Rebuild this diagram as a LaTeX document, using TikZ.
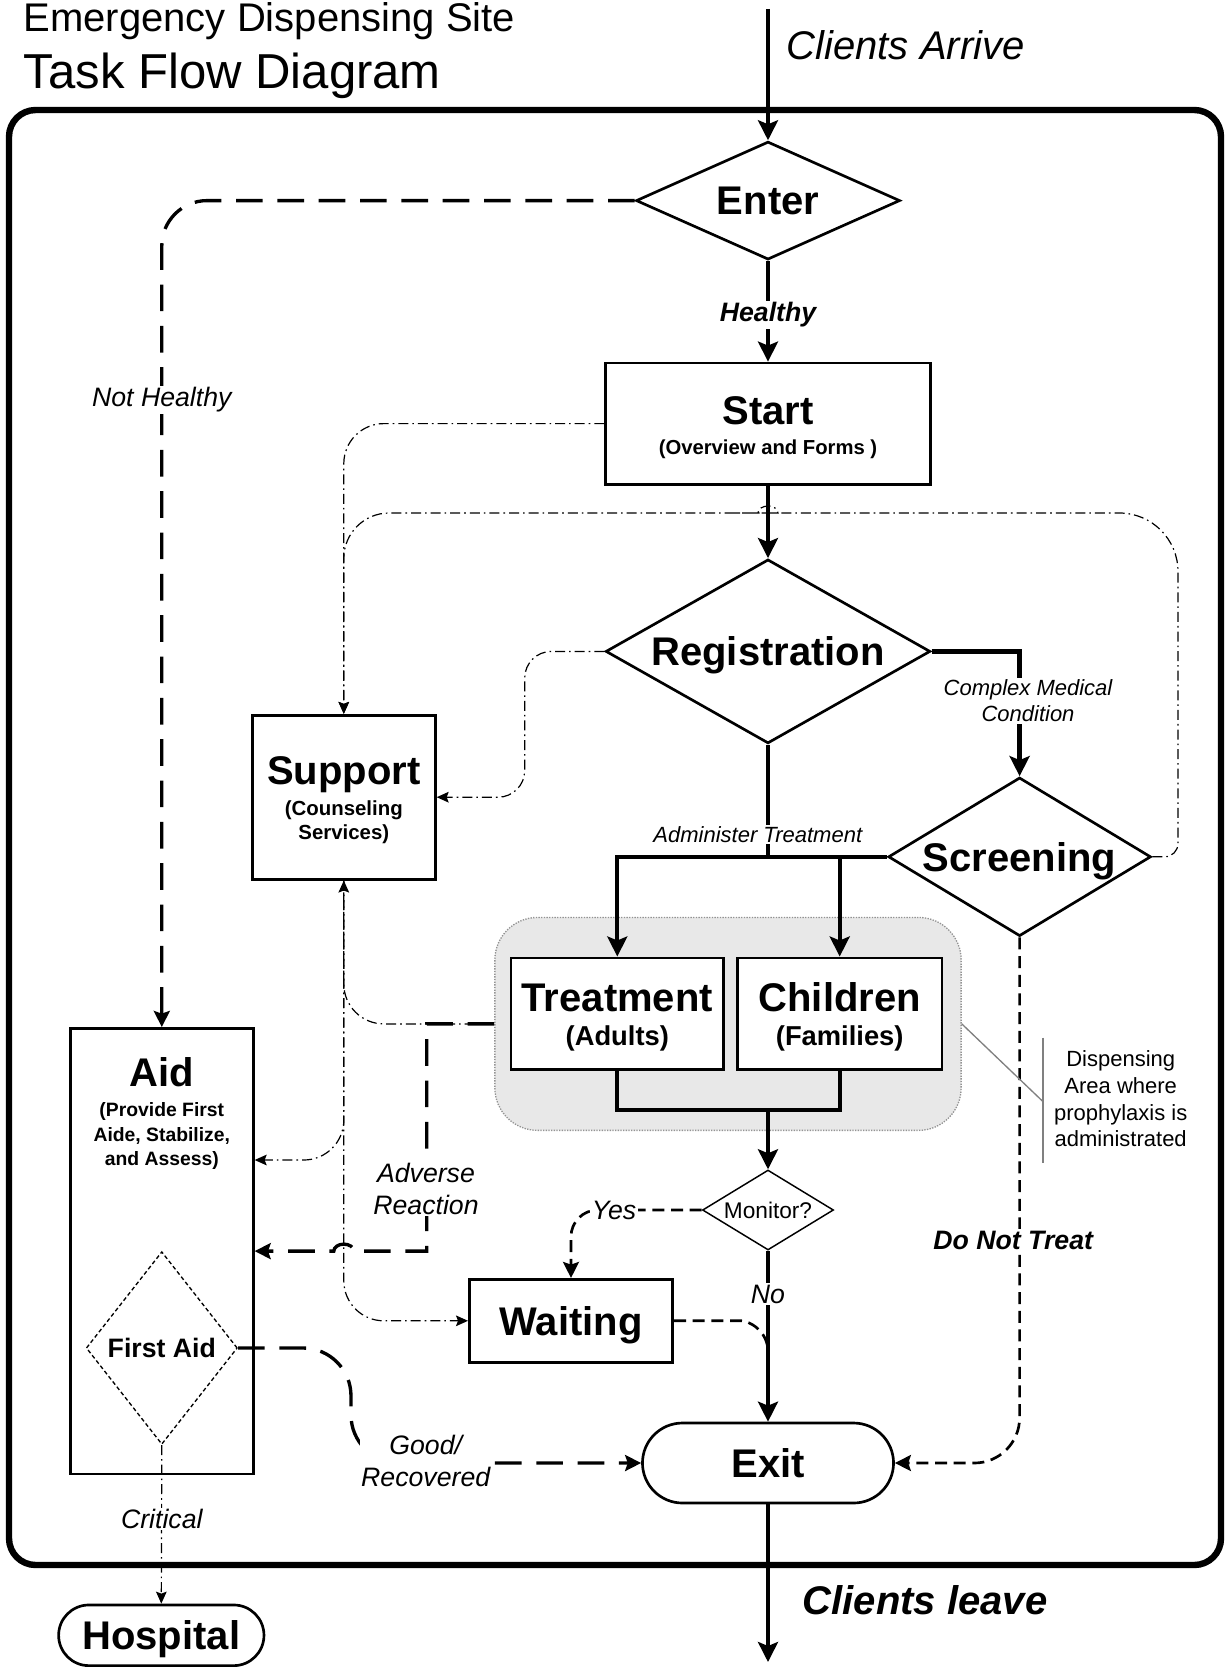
\documentclass[tikz,border=0pt]{standalone}
\usepackage{fontspec}
\setmainfont{Liberation Sans}
\usetikzlibrary{shapes.geometric,arrows.meta}
\newcommand{\setsize}[2]{\fontsize{#1}{#2}\selectfont}

\begin{document}
\begin{tikzpicture}[x=0.75pt, y=-0.75pt,
	box/.style={draw, line width=2pt, inner sep=0pt, align=center, text height=21.5pt, text depth=0pt, font=\bfseries\setsize{30}{30}},
	decision/.style={draw, diamond, line width=2pt, inner sep=0pt, text height=21.5pt, text depth=0pt, font=\bfseries\setsize{30}{30}},
	terminal/.style={draw, line width=2pt, inner sep=0pt, rounded corners=#1, text height=21.5pt, text depth=0pt, font=\bfseries\setsize{30}{30}},
	flowline/.style={line width=2.8pt},
	flowlink/.style={flowline, -{Stealth[length=15pt, width=15pt, inset=3pt]}},
	heavylink/.style={line width=3.8pt, -{Stealth[length=15pt, width=15pt, inset=3pt]}},
	longdashlink/.style={line width=2.5pt, dash pattern=on 20pt off 11pt, rounded corners=34pt, -{Stealth[length=12pt, width=12pt, inset=2pt]}},
	shortdashlink/.style={line width=2pt, dash pattern=on 9pt off 5pt, rounded corners=20pt, -{Stealth[length=12pt, width=12pt, inset=2pt]}},
	dashdotlink/.style={line width=0.9pt, dash pattern=on 7.5pt off 3pt on 1.2pt off 3pt, rounded corners=30pt, -{Stealth[length=9pt, width=8pt, inset=1.5pt]}},
	noteline/.style={draw=gray, line width=1pt},
	lbl/.style={fill=white, inner sep=1pt, font=\itshape\setsize{20}{24}},
	boldlbl/.style={fill=white, inner sep=1pt, font=\bfseries\itshape\setsize{20}{24}},
	smalllbl/.style={fill=white, inner sep=1pt, font=\itshape\setsize{16.5}{20}}]
	\useasboundingbox (0,0) rectangle (1225,1669);
	\draw[line width=4.8pt, rounded corners=20pt] (9,110) rectangle (1221,1565);

	\node (title) at (19,32) [anchor=base west, font=\setsize{30}{30}] {Emergency Dispensing Site};
	\node (subtitle) at (19,89) [anchor=base west, font=\setsize{36.8}{40}] {Task Flow Diagram};

	\node (enter) at (768,200.6) [decision, aspect=2.24, minimum width=198pt, minimum height=88.5pt] {Enter};
	\node (start) at (768,423.6) [box, text height=46pt, minimum width=243.5pt, minimum height=91pt] {Start\\[-7.3pt]{\setsize{15.2}{18}(Overview and Forms )}};
	\node (registration) at (768,651.4) [decision, aspect=1.76, minimum width=243.5pt, minimum height=138pt] {Registration};
	\node (screening) at (1019.6,856.8) [decision, aspect=1.66, minimum width=197pt, minimum height=119pt] {Screening};
	\node (support) at (343.8,797.2) [box, text height=63.6pt, minimum width=137.3pt, minimum height=123pt] {Support\\[-7.4pt]{\setsize{15.3}{18}(Counseling}\\[-11.6pt]{\setsize{15.3}{18}Services)}};

	\node (area) at (728,1023.9) [draw=gray!85, densely dotted, line width=1pt, fill=gray!18, rounded corners=32pt, minimum width=349.7pt, minimum height=159.7pt] {};
	\node (treatment) at (617.3,1013.7) [box, fill=white, text height=47.6pt, minimum width=159.6pt, minimum height=83.8pt] {Treatment\\[-4.5pt]{\setsize{20.5}{24}(Adults)}};
	\node (children) at (839.7,1013.7) [box, fill=white, text height=47.6pt, minimum width=153.2pt, minimum height=83.8pt] {Children\\[-4.5pt]{\setsize{20.5}{24}(Families)}};

	\node (monitor) at (768,1210) [decision, line width=1.1pt, font=\setsize{17}{20}, text height=12.2pt, aspect=1.64, minimum width=98.3pt, minimum height=60pt] {Monitor?};
	\node (waiting) at (571,1320.8) [box, minimum width=152.5pt, minimum height=62.3pt] {Waiting};
	\node (exit) at (768,1463) [terminal=30pt, minimum width=188.3pt, minimum height=60pt] {Exit};

	\node (aid) at (161.8,1251.1) [box, minimum width=137.3pt, text height=103pt, text depth=231.2pt] {Aid\\[-7.7pt]{\setsize{14.5}{18}(Provide First}\\[-11.6pt]{\setsize{14.5}{18}Aide, Stabilize,}\\[-11.6pt]{\setsize{14.5}{18}and Assess)}};
	\node (firstaid) at (161.8,1348) [decision, line width=1pt, dash pattern=on 3pt off 2pt, font=\bfseries\setsize{20}{24}, text height=14.3pt, aspect=0.78, minimum width=113.4pt, minimum height=144.5pt] {First Aid};
	\node (hospital) at (161.3,1635.3) [terminal=22.7pt, minimum width=154pt, minimum height=45.5pt] {Hospital};

	\coordinate (arrive) at (768,9);
	\coordinate (leave) at (768,1662);
	\coordinate (merge) at (768,1110);
	\coordinate (join) at (768,1352);

	\draw[flowlink] (arrive) -- (enter.north);
	\draw[flowlink] (enter.south) -- (start.north);
	\draw[flowlink] (start.south) -- (registration.north);
	\draw[heavylink] (registration.east) -| (screening.north);
	\draw[flowline] (registration.south) -- (registration.south |- screening.west);
	\draw[flowlink] (screening.west) -| (treatment.north);
	\draw[flowlink] (screening.west) -| (children.north);
	\draw[flowline] (treatment.south) |- (merge);
	\draw[flowline] (children.south) |- (merge);
	\draw[flowlink] (merge) -- (monitor.north);
	\draw[flowlink] (monitor.south) -- (exit.north);
	\draw[flowlink] (exit.south) -- (leave);

	\draw[longdashlink] (enter.west) -| (aid.north);
	\draw[longdashlink, sharp corners] (area.west) -| (426.8,1251.1) -- (353.8,1251.1) arc[start angle=0, end angle=-180, x radius=10, y radius=7] -- (aid.east);
	\draw[longdashlink, rounded corners=36pt] (firstaid.east) -| (351,1463) -- (exit.west);
	\draw[shortdashlink] (monitor.west) -| (waiting.north);
	\draw[shortdashlink, -] (waiting.east) -- (715,1320.8) .. controls (748,1320.8) and (768,1330) .. (join);
	\draw[shortdashlink, rounded corners=34pt] (screening.south) |- (exit.east);

	\draw[dashdotlink] (start.west) -| (support.north);
	\draw[dashdotlink] (screening.east) [rounded corners=10pt] -- (1178,856.8) -- (1178,700) [rounded corners=44pt] -- (1178,513) -- (790,513) [sharp corners] -- (778,513) arc[start angle=0, end angle=-180, x radius=10, y radius=7] -- (740,513) [rounded corners=34pt] -- (343.8,513) -- (support.north);
	\draw[dashdotlink, rounded corners=20pt] (registration.west) -| (524.7,797.2) -- (support.east);
	\draw[dashdotlink] (area.west) -| (support.south);
	\draw[dashdotlink] (support.south) |- (aid.east |- 0,1160);
	\draw[dashdotlink] (support.south) |- (waiting.west);
	\draw[dashdotlink] (firstaid.south) -- (hospital.north);

	\draw[noteline] (area.east) -- (1043,1101.6);
	\draw[noteline] (1043,1037.7) -- (1043,1163.3);
	\node (dispnote) at (1120.7,1099) [font=\setsize{16.5}{20}, align=center] {Dispensing\\Area where\\prophylaxis is\\administrated};

	\node (arrivelbl) at (782,60) [anchor=base west, font=\itshape\setsize{30}{30}] {Clients Arrive};
	\node (leavelbl) at (798,1614) [anchor=base west, font=\bfseries\itshape\setsize{30}{30}] {Clients leave};
	\node (healthylbl) at (768,315) [boldlbl] {Healthy};
	\node (nothealthylbl) at (161.8,400) [lbl] {Not Healthy};
	\node (complexlbl) at (1028,700.8) [smalllbl, align=center] {Complex Medical\\Condition};
	\node (administerlbl) at (757.8,834.4) [smalllbl] {Administer Treatment};
	\node (adverselbl) at (426,1189) [lbl, align=center] {Adverse\\Reaction};
	\node (yeslbl) at (614,1210) [lbl] {Yes};
	\node (nolbl) at (768,1294) [lbl] {No};
	\node (donottreatlbl) at (1013.2,1240) [boldlbl] {Do Not Treat};
	\node (goodlbl) at (425.7,1461) [lbl, align=center] {Good/\\Recovered};
	\node (criticallbl) at (161.8,1518.8) [lbl] {Critical};
\end{tikzpicture}
\end{document}
